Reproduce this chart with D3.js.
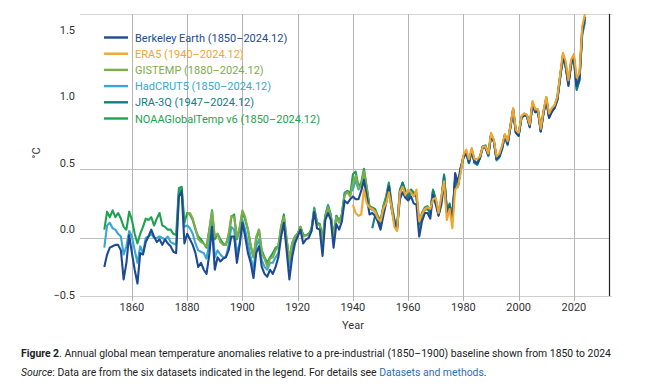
<!DOCTYPE html>
<html>
<head>
<meta charset="utf-8">
<script src="https://cdn.jsdelivr.net/npm/d3@7"></script>
<style>
  body { margin: 0; background: #fff; }
  svg { display: block; font-family: Roboto, "Noto Sans", sans-serif; }
</style>
</head>
<body>
<div id="chart"></div>
<script>
// series names, colours, first year (annual values, °C vs 1850-1900)
var seriesNames = ['Berkeley Earth (1850–2024.12)', 'ERA5 (1940–2024.12)', 'GISTEMP (1880–2024.12)',
  'HadCRUT5 (1850–2024.12)', 'JRA-3Q (1947–2024.12)', 'NOAAGlobalTemp v6 (1850–2024.12)'];
var seriesColors = ['#1d4a94', '#f2a530', '#7dae4b', '#3aa7d2', '#127c84', '#1fa24f'];
var seriesStart = [1850, 1940, 1880, 1850, 1947, 1850];

var berkeley = [
  -0.21, -0.12, -0.07, -0.06, -0.05, -0.05, -0.09, -0.30, -0.18, 0.02,
  -0.11, -0.23, -0.33, -0.11, -0.12, -0.03, 0.01, 0.06, 0.01, -0.03,
  -0.01, -0.05, -0.01, -0.04, -0.06, -0.10, -0.11, 0.30, 0.34, -0.04,
  0.03, -0.01, -0.05, -0.11, -0.21, -0.18, -0.23, -0.26, -0.12, 0.08,
  -0.23, -0.14, -0.17, -0.15, -0.14, -0.09, 0.01, 0.01, -0.18, -0.05,
  0.11, 0.01, -0.11, -0.18, -0.29, -0.11, -0.06, -0.21, -0.26, -0.28,
  -0.23, -0.26, -0.21, -0.14, 0.01, 0.11, -0.09, -0.30, -0.14, -0.04,
  0.01, 0.06, -0.04, -0.01, 0.00, 0.05, 0.19, 0.07, 0.06, -0.13,
  0.13, 0.18, 0.13, -0.07, 0.10, 0.06, 0.12, 0.27, 0.25, 0.28,
  0.30, 0.28, 0.28, 0.34, 0.42, 0.30, 0.17, 0.18, 0.16, 0.12,
  0.06, 0.16, 0.25, 0.37, 0.21, 0.11, 0.07, 0.28, 0.33, 0.29,
  0.27, 0.30, 0.25, 0.24, 0.01, 0.12, 0.18, 0.18, 0.14, 0.31,
  0.24, 0.16, 0.24, 0.40, 0.18, 0.22, 0.12, 0.47, 0.40, 0.51,
  0.58, 0.62, 0.55, 0.64, 0.55, 0.54, 0.58, 0.66, 0.65, 0.60,
  0.74, 0.70, 0.57, 0.59, 0.65, 0.74, 0.68, 0.80, 0.92, 0.76,
  0.74, 0.87, 0.89, 0.88, 0.80, 0.97, 0.91, 0.92, 0.77, 0.90,
  1.00, 0.87, 0.91, 0.94, 1.00, 1.16, 1.31, 1.25, 1.10, 1.27,
  1.30, 1.10, 1.15, 1.50, 1.60
];
var era5 = [
  0.24, 0.18, 0.16, 0.17, 0.35, 0.25, 0.22, 0.21, 0.19, 0.14,
  0.12, 0.21, 0.25, 0.33, 0.22, 0.08, 0.05, 0.33, 0.37, 0.31,
  0.35, 0.33, 0.30, 0.35, 0.12, 0.17, 0.21, 0.22, 0.21, 0.28,
  0.29, 0.18, 0.30, 0.41, 0.13, 0.21, 0.07, 0.35, 0.37, 0.47,
  0.60, 0.64, 0.57, 0.65, 0.57, 0.57, 0.59, 0.66, 0.66, 0.61,
  0.76, 0.71, 0.59, 0.61, 0.67, 0.75, 0.70, 0.81, 0.94, 0.78,
  0.76, 0.88, 0.90, 0.89, 0.82, 0.99, 0.93, 0.93, 0.79, 0.92,
  1.02, 0.90, 0.94, 0.96, 1.02, 1.18, 1.34, 1.28, 1.14, 1.29,
  1.33, 1.16, 1.19, 1.53, 1.62
];
var gistemp = [
  0.17, 0.18, 0.14, 0.07, -0.01, -0.03, -0.04, -0.06, 0.05, 0.19,
  0.01, 0.03, -0.03, -0.05, -0.05, 0.03, 0.16, 0.15, 0.00, 0.08,
  0.20, 0.15, 0.06, -0.05, -0.14, 0.01, 0.06, -0.11, -0.15, -0.21,
  -0.15, -0.14, -0.09, -0.06, 0.08, 0.15, -0.01, -0.16, -0.04, 0.01,
  0.03, 0.08, 0.01, 0.02, 0.02, 0.05, 0.20, 0.10, 0.09, -0.03,
  0.15, 0.22, 0.15, 0.00, 0.15, 0.11, 0.16, 0.31, 0.33, 0.30,
  0.40, 0.45, 0.36, 0.38, 0.48, 0.36, 0.21, 0.21, 0.19, 0.15,
  0.11, 0.21, 0.28, 0.38, 0.23, 0.12, 0.06, 0.32, 0.38, 0.32,
  0.28, 0.33, 0.31, 0.30, 0.08, 0.16, 0.20, 0.21, 0.17, 0.33,
  0.27, 0.17, 0.26, 0.43, 0.19, 0.23, 0.14, 0.43, 0.37, 0.49,
  0.59, 0.63, 0.55, 0.64, 0.56, 0.54, 0.59, 0.66, 0.67, 0.61,
  0.75, 0.71, 0.58, 0.60, 0.66, 0.75, 0.69, 0.81, 0.93, 0.77,
  0.75, 0.88, 0.90, 0.89, 0.82, 0.98, 0.93, 0.93, 0.79, 0.92,
  1.02, 0.89, 0.93, 0.96, 1.02, 1.17, 1.32, 1.26, 1.13, 1.28,
  1.32, 1.12, 1.17, 1.51, 1.60
];
var hadcrut = [
  -0.07, 0.09, 0.11, 0.07, 0.06, 0.03, 0.01, -0.12, -0.06, 0.05,
  0.01, -0.09, -0.18, -0.06, -0.11, 0.00, 0.01, 0.03, 0.00, 0.00,
  0.01, 0.00, -0.01, 0.01, -0.03, -0.04, -0.05, 0.34, 0.36, 0.08,
  0.09, 0.07, 0.03, -0.04, -0.09, -0.10, -0.11, -0.15, -0.04, 0.13,
  -0.14, -0.09, -0.12, -0.14, -0.14, -0.05, 0.08, 0.06, -0.11, -0.04,
  0.13, 0.06, -0.04, -0.14, -0.23, -0.06, -0.01, -0.16, -0.21, -0.23,
  -0.18, -0.18, -0.14, -0.11, 0.06, 0.13, -0.06, -0.21, -0.09, -0.01,
  0.03, 0.08, 0.02, 0.02, 0.02, 0.07, 0.22, 0.11, 0.10, -0.02,
  0.16, 0.24, 0.17, 0.01, 0.16, 0.12, 0.17, 0.33, 0.34, 0.33,
  0.35, 0.42, 0.35, 0.38, 0.47, 0.35, 0.22, 0.20, 0.20, 0.15,
  0.12, 0.22, 0.29, 0.39, 0.24, 0.13, 0.08, 0.34, 0.39, 0.33,
  0.29, 0.34, 0.32, 0.31, 0.09, 0.17, 0.21, 0.22, 0.18, 0.34,
  0.27, 0.17, 0.27, 0.44, 0.20, 0.24, 0.15, 0.42, 0.37, 0.49,
  0.58, 0.61, 0.54, 0.63, 0.54, 0.53, 0.58, 0.66, 0.67, 0.59,
  0.74, 0.70, 0.56, 0.58, 0.64, 0.74, 0.67, 0.80, 0.93, 0.76,
  0.74, 0.87, 0.89, 0.88, 0.81, 0.96, 0.91, 0.91, 0.78, 0.91,
  1.00, 0.87, 0.92, 0.94, 1.00, 1.15, 1.30, 1.23, 1.12, 1.25,
  1.29, 1.08, 1.14, 1.47, 1.56
];
var jra3q = [
  0.07, 0.16, 0.13, 0.10, 0.20, 0.26, 0.38, 0.22, 0.12, 0.07,
  0.33, 0.40, 0.33, 0.29, 0.34, 0.31, 0.30, 0.10, 0.17, 0.21,
  0.22, 0.18, 0.34, 0.27, 0.17, 0.27, 0.45, 0.20, 0.24, 0.14,
  0.42, 0.38, 0.49, 0.58, 0.62, 0.54, 0.63, 0.55, 0.53, 0.58,
  0.66, 0.66, 0.60, 0.74, 0.70, 0.57, 0.59, 0.65, 0.74, 0.68,
  0.80, 0.93, 0.76, 0.74, 0.87, 0.89, 0.88, 0.81, 0.97, 0.91,
  0.92, 0.77, 0.91, 1.00, 0.87, 0.92, 0.94, 1.00, 1.16, 1.31,
  1.25, 1.11, 1.26, 1.29, 1.07, 1.14, 1.48, 1.58
];
var noaa = [
  0.06, 0.19, 0.15, 0.20, 0.15, 0.18, 0.14, 0.08, 0.06, 0.19,
  0.13, 0.03, -0.04, 0.03, 0.08, 0.14, 0.13, 0.15, 0.09, 0.14,
  0.18, 0.09, 0.08, 0.06, 0.06, 0.03, 0.02, 0.36, 0.37, 0.11,
  0.18, 0.17, 0.13, 0.06, 0.01, -0.01, -0.04, -0.07, 0.06, 0.20,
  -0.01, 0.03, -0.01, -0.04, -0.05, 0.01, 0.15, 0.17, -0.01, 0.06,
  0.19, 0.13, 0.06, -0.06, -0.14, -0.01, 0.06, -0.09, -0.14, -0.18,
  -0.14, -0.11, -0.07, -0.06, 0.08, 0.17, -0.01, -0.16, -0.04, 0.01,
  0.03, 0.08, 0.02, 0.02, 0.03, 0.06, 0.21, 0.11, 0.10, -0.01,
  0.16, 0.23, 0.16, 0.01, 0.16, 0.12, 0.17, 0.32, 0.34, 0.31,
  0.46, 0.48, 0.37, 0.40, 0.50, 0.37, 0.23, 0.22, 0.21, 0.16,
  0.13, 0.23, 0.30, 0.40, 0.25, 0.13, 0.08, 0.35, 0.40, 0.34,
  0.30, 0.35, 0.33, 0.31, 0.10, 0.18, 0.22, 0.23, 0.19, 0.35,
  0.28, 0.18, 0.28, 0.46, 0.21, 0.25, 0.16, 0.42, 0.37, 0.50,
  0.59, 0.62, 0.55, 0.64, 0.55, 0.54, 0.58, 0.66, 0.66, 0.60,
  0.75, 0.70, 0.57, 0.59, 0.65, 0.74, 0.68, 0.81, 0.93, 0.77,
  0.75, 0.87, 0.89, 0.88, 0.81, 0.97, 0.92, 0.91, 0.78, 0.91,
  1.01, 0.88, 0.92, 0.95, 1.01, 1.17, 1.31, 1.25, 1.12, 1.27,
  1.30, 1.10, 1.16, 1.49, 1.58
];
var seriesValues = [berkeley, era5, gistemp, hadcrut, jra3q, noaa];

var xTicks = [1860, 1880, 1900, 1920, 1940, 1960, 1980, 2000, 2020];
var yTicks = [-0.5, 0.0, 0.5, 1.0, 1.5];
var yGrid = [0.0, 0.5];

var width = 650, height = 390;
var svg = d3.select('#chart').append('svg')
  .attr('width', width)
  .attr('height', height);

var x = d3.scaleLinear().domain([1841.2, 2032.7]).range([80, 609]);
var y = d3.scaleLinear().domain([-0.42, 1.62]).range([296, 14]);
// tick labels sit on their own even spacing in the original figure
var yLab = d3.scaleLinear().domain([-0.5, 1.5]).range([295, 30]);

// frame lines
svg.append('line').attr('x1', 80).attr('x2', 612).attr('y1', 14.5).attr('y2', 14.5)
  .attr('stroke', '#d4d4d4');
svg.append('line').attr('x1', 80).attr('x2', 612).attr('y1', 296.5).attr('y2', 296.5)
  .attr('stroke', '#cfcfcf');

// vertical grid + ticks
svg.selectAll('.vgrid').data(xTicks).enter().append('line')
  .attr('class', 'vgrid')
  .attr('x1', d => Math.round(x(d)) + 0.5).attr('x2', d => Math.round(x(d)) + 0.5)
  .attr('y1', 14).attr('y2', 301)
  .attr('stroke', '#b4b4b4');

// horizontal grid
svg.selectAll('.hgrid').data(yGrid).enter().append('line')
  .attr('class', 'hgrid')
  .attr('x1', 80).attr('x2', 609)
  .attr('y1', d => Math.round(y(d)) + 0.5).attr('y2', d => Math.round(y(d)) + 0.5)
  .attr('stroke', '#bdbdbd');

// right axis line
svg.append('line').attr('x1', 609.5).attr('x2', 609.5).attr('y1', 14).attr('y2', 296)
  .attr('stroke', '#222').attr('stroke-width', 1.2);

// x tick labels
svg.selectAll('.xlab').data(xTicks).enter().append('text')
  .attr('x', d => x(d)).attr('y', 311)
  .attr('text-anchor', 'middle')
  .attr('font-size', 11).attr('fill', '#333')
  .text(d => d);

// y tick labels
svg.selectAll('.ylab').data(yTicks).enter().append('text')
  .attr('x', 75).attr('y', d => yLab(d) + 4)
  .attr('text-anchor', 'end')
  .attr('font-size', 11).attr('fill', '#333')
  .text(d => d3.format('.1f')(d).replace('-', '−'));

svg.append('text')
  .attr('transform', 'translate(40,153) rotate(-90)')
  .attr('text-anchor', 'middle')
  .attr('font-size', 11).attr('fill', '#333')
  .text('°C');

svg.append('text')
  .attr('x', 353).attr('y', 329)
  .attr('text-anchor', 'middle')
  .attr('font-size', 11).attr('fill', '#333')
  .text('Year');

// lines
var line = d3.line()
  .x(d => x(d.year))
  .y(d => y(d.value));

var drawOrder = [3, 5, 2, 4, 0, 1];
drawOrder.forEach(function (i) {
  var pts = seriesValues[i].map((v, k) => ({ year: seriesStart[i] + k, value: v }));
  svg.append('path')
    .datum(pts)
    .attr('fill', 'none')
    .attr('stroke', seriesColors[i])
    .attr('stroke-width', 2.1)
    .attr('stroke-linejoin', 'round')
    .attr('d', line);
});

// legend
var legend = svg.append('g');
seriesNames.forEach(function (name, i) {
  var ly = 37.5 + i * 16.2;
  legend.append('line')
    .attr('x1', 104).attr('x2', 128).attr('y1', ly).attr('y2', ly)
    .attr('stroke', seriesColors[i]).attr('stroke-width', 2.4);
  legend.append('text')
    .attr('x', 135).attr('y', ly + 4)
    .attr('font-size', 11).attr('fill', seriesColors[i])
    .text(name);
});

// caption, squeezed/stretched to the original width
function squeeze(sel, x0, targetW) {
  var w = sel.node().getComputedTextLength();
  sel.attr('transform', 'translate(' + x0 + ',0) scale(' + (targetW / w) + ',1)');
}

var cap1 = svg.append('text').attr('x', 0).attr('y', 357.5)
  .attr('font-size', 10.5).attr('fill', '#222');
cap1.append('tspan').attr('font-weight', 'bold').text('Figure 2');
cap1.append('tspan').text('. Annual global mean temperature anomalies relative to a pre-industrial (1850–1900) baseline shown from 1850 to 2024');
squeeze(cap1, 21, 591);

var cap2 = svg.append('text').attr('x', 0).attr('y', 376.5)
  .attr('font-size', 10.5).attr('fill', '#222');
cap2.append('tspan').attr('font-style', 'italic').text('Source');
cap2.append('tspan').text(': Data are from the six datasets indicated in the legend. For details see ');
cap2.append('tspan').attr('fill', '#2f6db5').text('Datasets and methods');
cap2.append('tspan').text('.');
squeeze(cap2, 21, 466);
</script>
</body>
</html>
